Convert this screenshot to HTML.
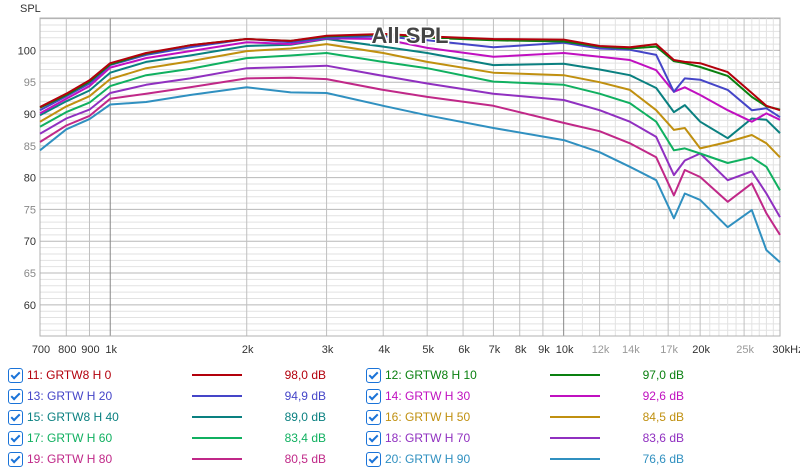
<!DOCTYPE html>
<html><head><meta charset="utf-8">
<style>
body{margin:0;background:#fff;width:800px;height:472px;overflow:hidden;font-family:"Liberation Sans",sans-serif}
#legend .row{position:absolute;height:18px;font-size:12px;line-height:18px}
.cb{position:absolute;width:13px;height:13px;border:1px solid #1a73d8;border-radius:3px;top:2px;background:#fff}
.cb:after{content:"";position:absolute;left:4px;top:1px;width:3px;height:7px;border:solid #1a73d8;border-width:0 2px 2px 0;transform:rotate(45deg)}
</style></head><body>
<svg id="chart" width="800" height="360" style="position:absolute;left:0;top:0" font-family="Liberation Sans, sans-serif"></svg>
<div id="legend"></div>
<script>
const freqs=[700,800,900,1000,1200,1500,2000,2500,3000,4000,5000,7000,10000,12000,14000,16000,17500,18500,20000,23000,26000,28000,30000];
const names=["11: GRTW8 H 0","12: GRTW8 H 10","13: GRTW H 20","14: GRTW H 30","15: GRTW8 H 40","16: GRTW H 50","17: GRTW H 60","18: GRTW H 70","19: GRTW H 80","20: GRTW H 90"];
const levels=["98,0 dB","97,0 dB","94,9 dB","92,6 dB","89,0 dB","84,5 dB","83,4 dB","83,6 dB","80,5 dB","76,6 dB"];
const colors=["#b3000c","#0a8010","#4545c8","#c010c0","#0a8080","#c09010","#10b060","#9030c0","#c02888","#3090c0"];
const sH0=[91.1,93.2,95.3,98.0,99.6,100.8,101.8,101.5,102.3,102.6,102.2,101.8,101.7,100.7,100.5,101.0,98.5,98.2,98.0,96.6,93.3,91.3,90.6];
const sH10=[91.0,93.0,95.1,97.8,99.5,100.8,101.8,101.5,102.2,102.5,102.0,101.6,101.4,100.6,100.3,100.6,98.3,98.0,97.4,96.0,92.7,91.2,90.7];
const sH20=[90.6,92.8,94.8,97.7,99.3,100.5,101.8,101.3,102.0,102.2,101.6,100.5,101.2,100.3,100.1,99.3,93.5,95.6,95.4,93.8,90.6,90.9,89.5];
const sH30=[90.1,92.4,94.4,97.3,98.8,99.9,101.3,101.0,101.9,101.8,100.4,99.0,99.6,99.0,98.5,96.9,93.5,94.2,93.0,90.6,88.8,90.1,89.1];
const sH40=[89.8,92.0,93.7,96.5,98.2,99.2,100.7,100.9,101.8,100.6,99.6,97.7,97.9,97.0,96.1,94.1,90.3,91.4,88.8,86.2,89.3,89.1,87.0];
const sH50=[88.8,91.2,92.8,95.5,97.2,98.3,99.9,100.3,101.0,99.6,98.2,96.5,96.1,95.0,93.8,90.6,87.5,87.8,84.6,85.6,86.7,85.4,83.2];
const sH60=[88.0,90.3,91.8,94.4,96.1,97.1,98.8,99.2,99.6,98.2,97.2,95.1,94.6,93.2,91.7,88.8,84.3,84.6,83.8,82.3,83.2,81.7,78.0];
const sH70=[86.9,89.3,90.7,93.3,94.6,95.6,97.2,97.4,97.6,96.0,94.8,93.2,92.2,90.6,88.8,86.4,80.4,82.7,83.8,79.6,81.0,77.5,73.8];
const sH80=[85.6,88.2,89.7,92.4,93.2,94.2,95.6,95.7,95.5,93.8,92.7,91.3,88.6,87.3,85.4,83.2,77.2,81.2,80.1,76.2,79.1,74.4,71.0];
const sH90=[84.3,87.6,89.2,91.5,91.9,93.0,94.2,93.4,93.3,91.3,89.8,87.8,85.9,84.0,81.7,79.6,73.6,77.5,76.5,72.2,74.9,68.6,66.7];
const series=[sH0,sH10,sH20,sH30,sH40,sH50,sH60,sH70,sH80,sH90];
const xTicks=[700,800,900,1000,2000,3000,4000,5000,6000,7000,8000,9000,10000,12000,14000,17000,20000,25000,30000];
const xLabels=["700","800","900","1k","2k","3k","4k","5k","6k","7k","8k","9k","10k","12k","14k","17k","20k","25k","30kHz"];
const yTicks=[60,65,70,75,80,85,90,95,100];

const L=40,R=780,T=18,B=336,fMin=700,fMax=30000,dMin=55.1,dMax=105.1;
const X=f=>L+(Math.log10(f)-Math.log10(fMin))/(Math.log10(fMax)-Math.log10(fMin))*(R-L);
const Y=d=>B-(d-dMin)/(dMax-dMin)*(B-T);
const svg=document.getElementById('chart');const NS="http://www.w3.org/2000/svg";
function mk(t,a,p){const e=document.createElementNS(NS,t);for(const k in a)e.setAttribute(k,a[k]);(p||svg).appendChild(e);return e;}
const grid=mk('g',{});


for(let d=56;d<=105;d++){const major=d%5===0;mk('line',{x1:L,x2:R,y1:Y(d),y2:Y(d),stroke:major?'#b8b8b8':'#e2e2e2','stroke-width':1},grid);}
const vmin=[];for(let f=700;f<1000;f+=100)vmin.push(f);for(let f=1000;f<10000;f+=1000)vmin.push(f);for(let f=10000;f<=30000;f+=1000)vmin.push(f);
vmin.forEach(f=>{const maj=xTicks.includes(f);mk('line',{x1:X(f),x2:X(f),y1:T,y2:B,stroke:f===1000||f===10000?'#888':(maj?'#c0c0c0':'#e2e2e2'),'stroke-width':1},grid);});
mk('rect',{x:L,y:T,width:R-L,height:B-T,fill:'none',stroke:'#b0b0b0'});
const yl=mk('g',{'font-size':11,'text-anchor':'end'});


yTicks.forEach(v=>{const t=mk('text',{x:36,y:Y(v)+4,fill:v%10===0?'#333':'#888'},yl);t.textContent=v;});
const xl=mk('g',{'font-size':11,'text-anchor':'middle'});


xTicks.forEach((f,i)=>{const light=[12000,14000,17000,25000].includes(f);const t=mk('text',{x:f===30000?X(f)+8:X(f)+1,y:353,fill:light?'#999':'#333'},xl);t.textContent=xLabels[i];});
const st=mk('text',{x:20,y:12,'font-size':11,fill:'#333'});st.textContent='SPL';


series.slice().reverse().forEach((s,ri)=>{const i=series.length-1-ri;
 let d='';s.forEach((v,j)=>{d+=(j?'L':'M')+X(freqs[j]).toFixed(1)+','+Y(v).toFixed(1);});
 const p=mk('path',{d:d,fill:'none',stroke:colors[i],'stroke-width':2,'stroke-linejoin':'round'});
 
 
});
const tt=mk('text',{x:410,y:43,'font-size':22,'font-weight':'bold','text-anchor':'middle',fill:'#444',stroke:'#fff','stroke-width':3,'paint-order':'stroke'});tt.textContent='All SPL';



const lg=document.getElementById('legend');
names.forEach((n,i)=>{const col=i%2,row=Math.floor(i/2);const ox=col?358:0,top=366+row*21;
 const r=document.createElement('div');r.className='row';r.style.left=ox+'px';r.style.top=top+'px';r.style.width='340px';
 
 
 r.innerHTML='<div class="cb" style="left:8px"></div>'+
 '<span style="position:absolute;left:27px;color:'+colors[i]+'">'+n+'</span>'+
 '<div style="position:absolute;left:192px;top:8px;width:50px;height:2px;background:'+colors[i]+'"></div>'+
 '<span style="position:absolute;right:14px;color:'+colors[i]+'">'+levels[i]+'</span>';
 lg.appendChild(r);});
</script>
</body></html>
